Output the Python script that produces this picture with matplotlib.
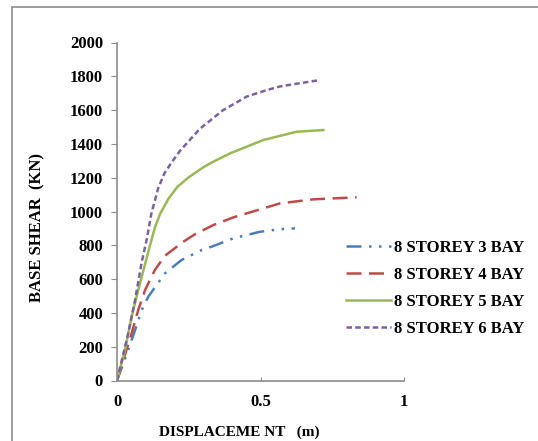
"""Pushover curves, 8 storey frames with 3-6 bays: base shear vs displacement."""
import matplotlib.pyplot as plt
import matplotlib as mpl
from matplotlib.patches import Rectangle

# values
DISP_3BAY = [0, 0.039, 0.063, 0.086, 0.109, 0.167, 0.225, 0.295, 0.33, 0.405,
             0.498, 0.568, 0.62]
SHEAR_3BAY = [0, 180, 299, 417, 496, 634, 713, 772, 792, 841,
              880, 895, 900]

DISP_4BAY = [0, 0.051, 0.074, 0.098, 0.132, 0.167, 0.231, 0.272, 0.336, 0.405,
             0.452, 0.568, 0.684, 0.835]
SHEAR_4BAY = [0, 279, 417, 536, 654, 738, 821, 866, 920, 965,
              989, 1048, 1072, 1084]

DISP_5BAY = [0, 0.028, 0.051, 0.074, 0.098, 0.115, 0.132, 0.15, 0.179, 0.21,
             0.248, 0.301, 0.33, 0.394, 0.51, 0.626, 0.719]
SHEAR_5BAY = [0, 180, 377, 536, 690, 800, 905, 985, 1075, 1145,
              1200, 1262, 1290, 1344, 1423, 1472, 1482]

DISP_6BAY = [0, 0.039, 0.063, 0.086, 0.103, 0.12, 0.144, 0.165, 0.19, 0.22,
             0.289, 0.37, 0.452, 0.521, 0.568, 0.707]
SHEAR_6BAY = [0, 279, 476, 700, 830, 990, 1140, 1225, 1290, 1360,
              1490, 1600, 1680, 1718, 1740, 1778]

LABELS = ["8 STOREY 3 BAY", "8 STOREY 4 BAY", "8 STOREY 5 BAY", "8 STOREY 6 BAY"]
X_TICKS = [0, 0.5, 1]
X_TICKLABELS = ["0", "0.5", "1"]
Y_TICKS = list(range(0, 2001, 200))

SERIES = [
    (DISP_3BAY, SHEAR_3BAY, "#4a7ebb", (6, 3, 1, 3, 1, 3)),
    (DISP_4BAY, SHEAR_4BAY, "#be4b48", (6, 3)),
    (DISP_5BAY, SHEAR_5BAY, "#98b954", None),
    (DISP_6BAY, SHEAR_6BAY, "#7d60a0", (2.2, 1.3)),
]


def main():
    mpl.rcParams["font.family"] = "Liberation Serif"
    mpl.rcParams["font.weight"] = "bold"
    fig = plt.figure(figsize=(5.38, 4.41), dpi=100)
    fig.patch.set_facecolor("white")

    # outer chart-area border (open to the right/bottom like the crop)
    fig.add_artist(Rectangle((12 / 538, -0.05), 1.2, 1 - 7 / 441 + 0.05,
                             transform=fig.transFigure, fill=False,
                             edgecolor="#8c8c8c", linewidth=1.2))

    ax = fig.add_axes([117 / 538, 1 - 380.5 / 441, 287 / 538, 338 / 441])
    for (xs, ys, col, dash), lab in zip(SERIES, LABELS):
        line, = ax.plot(xs, ys, color=col, linewidth=1.8, label=lab,
                        solid_joinstyle="round", dash_joinstyle="round")
        if dash:
            line.set_dashes(dash)

    ax.set_xlim(0, 1)
    ax.set_ylim(0, 2000)
    ax.set_xticks(X_TICKS)
    ax.set_xticklabels(X_TICKLABELS)
    ax.set_yticks(Y_TICKS)
    ax.tick_params(axis="x", direction="in", length=3, pad=10, labelsize=12,
                   color="#8c8c8c")
    ax.tick_params(axis="y", direction="out", length=4, pad=6, labelsize=12,
                   color="#8c8c8c")
    for s in ("top", "right"):
        ax.spines[s].set_visible(False)
    for s in ("left", "bottom"):
        ax.spines[s].set_color("#8c8c8c")
        ax.spines[s].set_linewidth(1.2)

    fig.text(37 / 538, 1 - 228 / 441, "BASE SHEAR  (KN)", rotation=90,
             ha="center", va="center", fontsize=12, fontweight="bold")
    fig.text(239 / 538, 1 - 432 / 441, "DISPLACEME NT   (m)",
             ha="center", va="center", fontsize=11, fontweight="bold")

    ax.legend(loc="upper left", bbox_to_anchor=(346 / 538, 1 - 240 / 441),
              bbox_transform=fig.transFigure, frameon=False, fontsize=12,
              handlelength=2.7, handletextpad=0.15, labelspacing=0.66,
              borderpad=0, borderaxespad=0)

    fig.savefig("out.png", dpi=100, facecolor="white")
    plt.close(fig)


if __name__ == "__main__":
    main()
